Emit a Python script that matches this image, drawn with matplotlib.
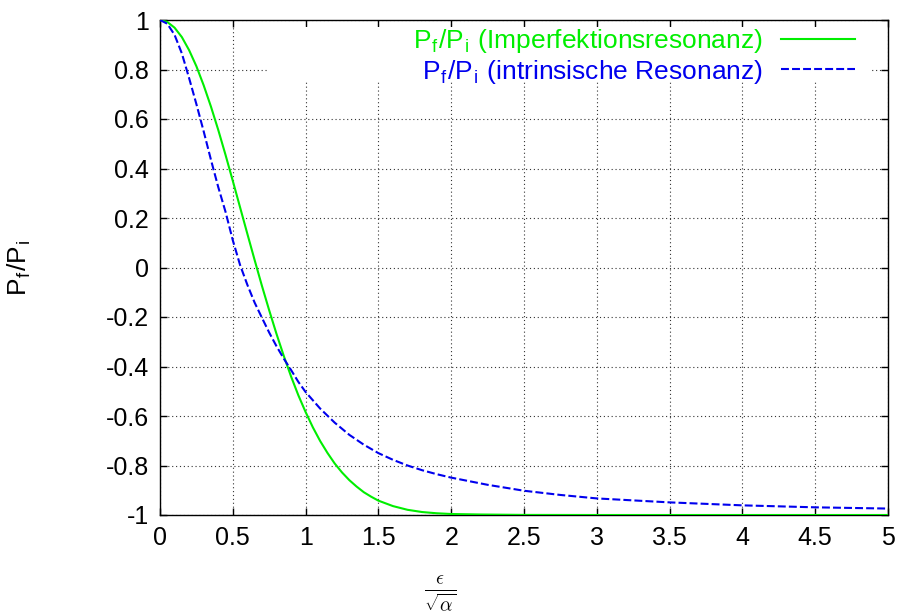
import numpy as np
import matplotlib
matplotlib.use("Agg")
import matplotlib.pyplot as plt
from matplotlib.patches import Rectangle

plt.rcParams['font.family'] = ['Liberation Sans', 'DejaVu Sans']
plt.rcParams['mathtext.fontset'] = 'cm'

# Imperfektionsresonanz (green, solid)
x_imp = [0.0, 0.05, 0.1, 0.15, 0.2, 0.25, 0.3, 0.35, 0.4, 0.45, 0.5, 0.55, 0.6,
         0.65, 0.7, 0.75, 0.8, 0.85, 0.9, 0.95, 1.0, 1.05, 1.1, 1.15, 1.2, 1.25,
         1.3, 1.35, 1.4, 1.45, 1.5, 1.6, 1.7, 1.8, 1.9, 2.0, 2.2, 2.5, 3.0, 3.5,
         4.0, 4.5, 5.0]
y_imp = [1.0, 0.992, 0.969, 0.931, 0.878, 0.813, 0.736, 0.650, 0.556, 0.455,
         0.350, 0.243, 0.136, 0.030, -0.074, -0.173, -0.268, -0.357, -0.440,
         -0.516, -0.584, -0.646, -0.701, -0.749, -0.792, -0.828, -0.859, -0.885,
         -0.908, -0.926, -0.942, -0.964, -0.979, -0.988, -0.993, -0.996, -0.998,
         -0.9996, -1.0, -1.0, -1.0, -1.0, -1.0]

# intrinsische Resonanz (blue, dashed)
x_int = [0.0, 0.05, 0.1, 0.15, 0.2, 0.25, 0.3, 0.35, 0.4, 0.45, 0.5, 0.55, 0.6,
         0.65, 0.7, 0.75, 0.8, 0.85, 0.9, 0.95, 1.0, 1.1, 1.2, 1.3, 1.4, 1.5,
         1.6, 1.7, 1.8, 1.9, 2.0, 2.25, 2.5, 2.75, 3.0, 3.5, 4.0, 4.5, 5.0]
y_int = [1.0, 0.985, 0.940, 0.865, 0.765, 0.660, 0.550, 0.435, 0.325, 0.225,
         0.110, 0.010, -0.070, -0.142, -0.203, -0.263, -0.318, -0.368, -0.414,
         -0.462, -0.503, -0.570, -0.627, -0.676, -0.716, -0.750, -0.777,
         -0.800, -0.819, -0.835, -0.849, -0.878, -0.902, -0.919, -0.933,
         -0.949, -0.961, -0.969, -0.974]

x_ticks = [0, 0.5, 1, 1.5, 2, 2.5, 3, 3.5, 4, 4.5, 5]
x_ticklabels = ['0', '0.5', '1', '1.5', '2', '2.5', '3', '3.5', '4', '4.5', '5']
y_ticks = [-1, -0.8, -0.6, -0.4, -0.2, 0, 0.2, 0.4, 0.6, 0.8, 1]
y_ticklabels = ['-1', '-0.8', '-0.6', '-0.4', '-0.2', '0', '0.2', '0.4', '0.6', '0.8', '1']

ratio_label = r'P$_\mathregular{f}$/P$_\mathregular{i}$'
label_imp = ratio_label + ' (Imperfektionsresonanz)'
label_int = ratio_label + ' (intrinsische Resonanz)'

fig = plt.figure(figsize=(8.98, 6.13), dpi=100)
ax = fig.add_axes([160/898, 1 - 515/613, 728/898, 495/613])

ax.plot(x_imp, y_imp, color='#00ee00', lw=1.5, label=label_imp, zorder=3)
ax.plot(x_int, y_int, color='#0000ee', lw=1.5, dashes=(3.8, 1.5),
        label=label_int, zorder=3)

ax.set_xlim(0, 5)
ax.set_ylim(-1, 1)
ax.set_xticks(x_ticks)
ax.set_xticklabels(x_ticklabels)
ax.set_yticks(y_ticks)
ax.set_yticklabels(y_ticklabels)
ax.tick_params(direction='in', length=5, width=1, top=True, right=True,
               labelsize=18, pad=8)
ax.grid(True, linestyle=(0, (1, 2.5)), color='0.2', lw=0.8)
for s in ax.spines.values():
    s.set_linewidth(1)

# key area blanks the grid like gnuplot does
ax.add_patch(Rectangle((0.147, 0.875), 0.831, 0.11, transform=ax.transAxes,
                       facecolor='white', edgecolor='none', zorder=1.6))

leg = ax.legend(loc='upper right', bbox_to_anchor=(0.955, 0.985), frameon=False,
                markerfirst=False, fontsize=19, handlelength=2.8,
                handletextpad=0.7, labelspacing=0.08, borderpad=0,
                borderaxespad=0)
leg.get_texts()[0].set_color('#00ee00')
leg.get_texts()[1].set_color('#0000ee')

ax.set_ylabel(ratio_label, fontsize=19)
ax.yaxis.set_label_coords(-0.175, 0.5)
ax.set_xlabel(r'$\frac{\epsilon}{\sqrt{\alpha}}$', fontsize=20)
ax.xaxis.set_label_coords(0.385, -0.12)

fig.savefig('out.png', dpi=100)
